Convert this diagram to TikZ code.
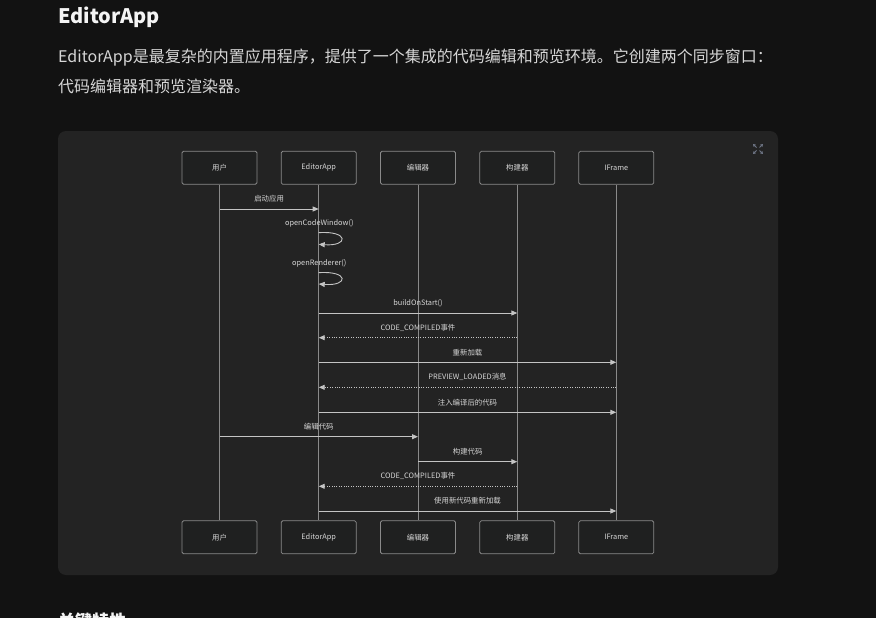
\documentclass[tikz,border=0pt]{standalone}
\usepackage{fontspec}
\setmainfont{Noto Sans CJK SC}
\usetikzlibrary{arrows.meta}
\definecolor{pagebg}{HTML}{121212}
\definecolor{cardbg}{HTML}{232323}
\definecolor{boxbg}{HTML}{1F2020}
\definecolor{boxline}{HTML}{8A8A8A}
\definecolor{msgc}{HTML}{C4C4C4}
\definecolor{txt}{HTML}{D6D6D6}
\definecolor{headc}{HTML}{F4F4F4}
\definecolor{iconc}{HTML}{6E7585}
\tikzset{
  actor/.style={draw=boxline, fill=boxbg, rounded corners=1.5pt, minimum width=75pt, minimum height=33pt, inner sep=0pt, text=txt, font=\fontsize{7.4}{8}\selectfont, line width=0.8pt},
  lifeline/.style={draw=boxline, line width=0.9pt},
  msgline/.style={draw=msgc, line width=0.9pt, -{Triangle[length=6pt,width=5pt]}},
  reply/.style={msgline, dash pattern=on 1pt off 1.4pt},
  lbl/.style={text=txt, font=\fontsize{7.4}{8}\selectfont, inner sep=0pt},
  icon/.style={draw=iconc, line width=1pt, -{Triangle[length=2.5pt,width=3pt]}}
}
\begin{document}
\begin{tikzpicture}[x=1pt,y=-1pt]
\useasboundingbox (0,0) rectangle (876,618);
\fill[pagebg] (0,0) rectangle (876,618);
% text above
\node[anchor=west, inner sep=0pt, text=headc, font=\fontsize{20}{24}\selectfont\bfseries] (title) at (58,17) {EditorApp};
\node[anchor=west, inner sep=0pt, text=txt, font=\fontsize{16}{18}\selectfont] (para1) at (58,58) {EditorApp是最复杂的内置应用程序，提供了一个集成的代码编辑和预览环境。它创建两个同步窗口：};
\node[anchor=west, inner sep=0pt, text=txt, font=\fontsize{16}{18}\selectfont] (para2) at (58,86) {代码编辑器和预览渲染器。};
% card
\fill[cardbg, rounded corners=8pt] (58,131) rectangle (778,575);
% expand icon
\coordinate (ic) at (758,149);
\draw[icon] ([shift={(-1.5,-1.5)}]ic) -- ([shift={(-5,-5)}]ic);
\draw[icon] ([shift={(1.5,-1.5)}]ic) -- ([shift={(5,-5)}]ic);
\draw[icon] ([shift={(-1.5,1.5)}]ic) -- ([shift={(-5,5)}]ic);
\draw[icon] ([shift={(1.5,1.5)}]ic) -- ([shift={(5,5)}]ic);
% actors
\node[actor] (u1) at (219.5,167.8) {用户};
\node[actor] (a1) at (318.7,167.8) {EditorApp};
\node[actor] (e1) at (418,167.8) {编辑器};
\node[actor] (b1) at (517.3,167.8) {构建器};
\node[actor] (f1) at (616.3,167.8) {IFrame};
\node[actor] (u2) at (219.5,537.3) {用户};
\node[actor] (a2) at (318.7,537.3) {EditorApp};
\node[actor] (e2) at (418,537.3) {编辑器};
\node[actor] (b2) at (517.3,537.3) {构建器};
\node[actor] (f2) at (616.3,537.3) {IFrame};
% lifelines
\draw[lifeline] (u1) -- (u2);
\draw[lifeline] (a1) -- (a2);
\draw[lifeline] (e1) -- (e2);
\draw[lifeline] (b1) -- (b2);
\draw[lifeline] (f1) -- (f2);
% message coordinates
\foreach \n/\y in {1/209, 4/313, 5/337.7, 6/362.3, 7/387.3, 8/412.3, 9/436.7, 10/461.7, 11/486.3, 12/511}{
  \coordinate (U\n) at (u1 |- 0,\y);
  \coordinate (A\n) at (a1 |- 0,\y);
  \coordinate (E\n) at (e1 |- 0,\y);
  \coordinate (B\n) at (b1 |- 0,\y);
  \coordinate (F\n) at (f1 |- 0,\y);
}
\coordinate (L2a) at (a1 |- 0,232.7);
\coordinate (L2b) at (a1 |- 0,244.3);
\coordinate (L3a) at (a1 |- 0,272.7);
\coordinate (L3b) at (a1 |- 0,284);
% messages
\draw[msgline] (U1) -- (A1) node[lbl, midway, yshift=10pt] (t1) {启动应用};
\node[lbl] (t2) at (319.3,223.3) {openCodeWindow()};
\draw[msgline] (L2a) .. controls (349,230.5) and (349,246.5) .. (L2b);
\node[lbl] (t3) at (319.3,263.3) {openRenderer()};
\draw[msgline] (L3a) .. controls (349,270.5) and (349,286.2) .. (L3b);
\draw[msgline] (A4) -- (B4) node[lbl, midway, yshift=10pt] (t4) {buildOnStart()};
\draw[reply] (B5) -- (A5) node[lbl, midway, yshift=10pt] (t5) {CODE\_COMPILED事件};
\draw[msgline] (A6) -- (F6) node[lbl, midway, yshift=10pt] (t6) {重新加载};
\draw[reply] (F7) -- (A7) node[lbl, midway, yshift=10pt] (t7) {PREVIEW\_LOADED消息};
\draw[msgline] (A8) -- (F8) node[lbl, midway, yshift=10pt] (t8) {注入编译后的代码};
\draw[msgline] (U9) -- (E9) node[lbl, midway, yshift=10pt] (t9) {编辑代码};
\draw[msgline] (E10) -- (B10) node[lbl, midway, yshift=10pt] (t10) {构建代码};
\draw[reply] (B11) -- (A11) node[lbl, midway, yshift=10pt] (t11) {CODE\_COMPILED事件};
\draw[msgline] (A12) -- (F12) node[lbl, midway, yshift=10pt] (t12) {使用新代码重新加载};
% cut-off heading at bottom (cut by the page edge, as in the reference)
\begin{scope}
\clip (0,0) rectangle (876,618);
\node[anchor=north west, inner sep=0pt, text=headc, font=\fontsize{17}{20}\selectfont\bfseries] (next) at (58,613) {关键特性};
\end{scope}
\end{tikzpicture}
\end{document}
